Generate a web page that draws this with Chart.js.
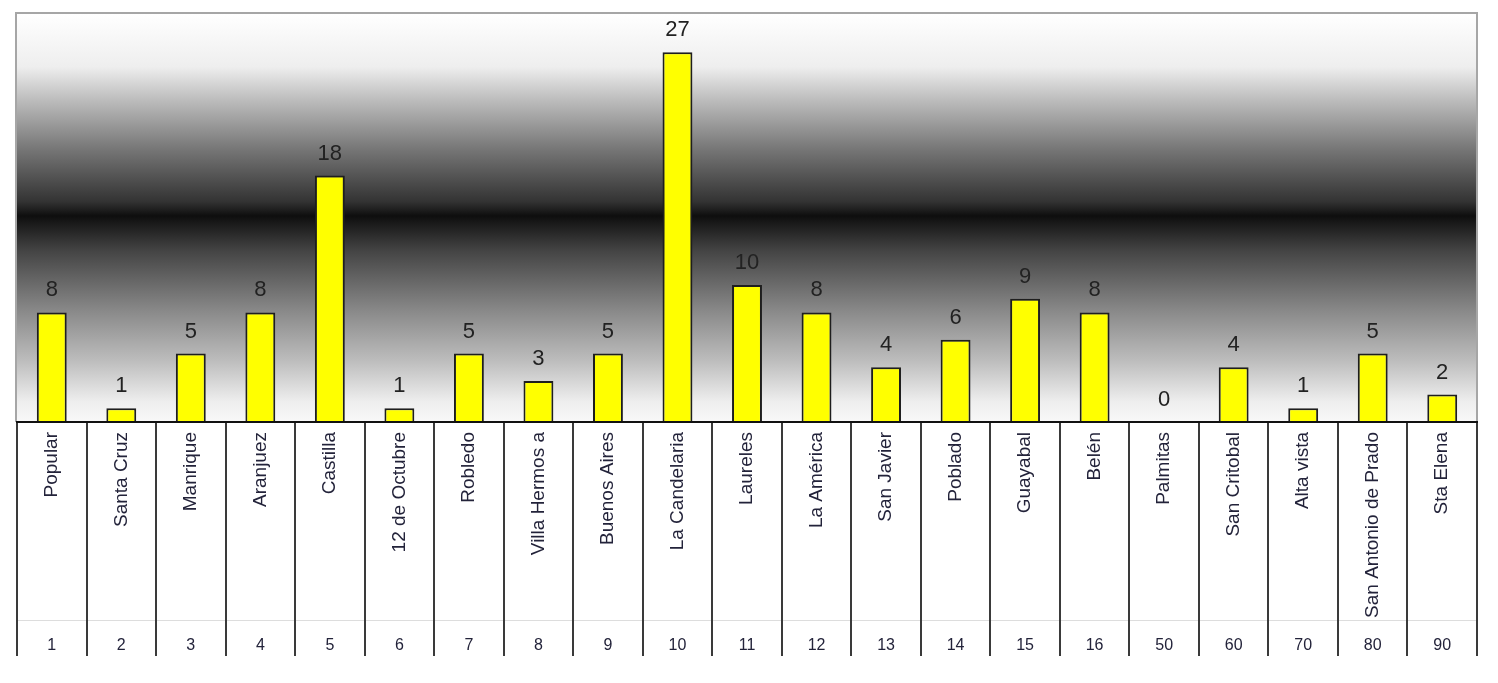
<!DOCTYPE html>
<html>
<head>
<meta charset="utf-8">
<script src="https://cdn.jsdelivr.net/npm/chart.js@4.4.1/dist/chart.umd.min.js"></script>
<style>
  html, body { margin: 0; padding: 0; background: #ffffff; }
  #wrap { width: 1498px; height: 683px; position: relative; }
</style>
</head>
<body>
<div id="wrap"><canvas id="chart" width="1498" height="683"></canvas></div>
<script>
// Comunas / corregimientos and their counts
const comunas = ['Popular', 'Santa Cruz', 'Manrique', 'Aranjuez', 'Castilla', '12 de Octubre',
  'Robledo', 'Villa Hermos a', 'Buenos Aires', 'La Candelaria', 'Laureles', 'La América',
  'San Javier', 'Poblado', 'Guayabal', 'Belén', 'Palmitas', 'San Critobal', 'Alta vista',
  'San Antonio de Prado', 'Sta Elena'];
const codigos = ['1', '2', '3', '4', '5', '6', '7', '8', '9', '10', '11', '12', '13', '14', '15', '16',
  '50', '60', '70', '80', '90'];
const casos = [8, 1, 5, 8, 18, 1, 5, 3, 5, 27, 10, 8, 4, 6, 9, 8, 0, 4, 1, 5, 2];

const FONT = "'Liberation Sans', Arial, sans-serif";

// Grey band background behind the bars
const bandBackground = {
  id: 'bandBackground',
  beforeDraw(chart) {
    const { ctx, chartArea: a } = chart;
    const g = ctx.createLinearGradient(0, a.top, 0, a.bottom);
    g.addColorStop(0.00, '#ffffff');
    g.addColorStop(0.13, '#eeeeee');
    g.addColorStop(0.21, '#bdbdbd');
    g.addColorStop(0.33, '#777777');
    g.addColorStop(0.46, '#333333');
    g.addColorStop(0.495, '#0e0e0e');
    g.addColorStop(0.58, '#444444');
    g.addColorStop(0.73, '#8a8a8a');
    g.addColorStop(0.85, '#bdbdbd');
    g.addColorStop(0.95, '#eeeeee');
    g.addColorStop(1.00, '#f8f8f8');
    ctx.save();
    ctx.fillStyle = g;
    ctx.fillRect(a.left, a.top, a.right - a.left, a.bottom - a.top);
    ctx.restore();
  }
};

// Frame, baseline, table dividers and value labels
const tableFrame = {
  id: 'tableFrame',
  afterDatasetsDraw(chart) {
    const { ctx, chartArea: a, scales } = chart;
    const xs = scales.x;
    const codes = scales.codes;
    const n = comunas.length;
    const step = (xs.right - xs.left) / n;
    ctx.save();

    // outer frame of the plot
    ctx.strokeStyle = '#a6a6a6';
    ctx.lineWidth = 2;
    ctx.beginPath();
    ctx.moveTo(a.left - 1, a.bottom);
    ctx.lineTo(a.left - 1, a.top - 1);
    ctx.lineTo(a.right, a.top - 1);
    ctx.lineTo(a.right, a.bottom);
    ctx.stroke();

    // row separator between names and codes
    ctx.strokeStyle = '#dddddd';
    ctx.lineWidth = 1;
    ctx.beginPath();
    ctx.moveTo(xs.left, codes.top + 0.5);
    ctx.lineTo(xs.right, codes.top + 0.5);
    ctx.stroke();

    // column dividers
    ctx.strokeStyle = '#3a3a3a';
    ctx.lineWidth = 2;
    for (let i = 0; i <= n; i++) {
      const x = Math.round(xs.left + i * step);
      ctx.beginPath();
      ctx.moveTo(x, a.bottom);
      ctx.lineTo(x, codes.bottom);
      ctx.stroke();
    }

    // baseline
    ctx.strokeStyle = '#111111';
    ctx.lineWidth = 2;
    ctx.beginPath();
    ctx.moveTo(a.left - 1, a.bottom);
    ctx.lineTo(a.right + 1, a.bottom);
    ctx.stroke();

    // value labels
    ctx.fillStyle = '#222222';
    ctx.font = '22px ' + FONT;
    ctx.textAlign = 'center';
    ctx.textBaseline = 'alphabetic';
    const meta = chart.getDatasetMeta(0);
    meta.data.forEach((bar, i) => {
      ctx.fillText(String(casos[i]), bar.x, bar.y - 16);
    });
    ctx.restore();
  }
};

new Chart(document.getElementById('chart'), {
  type: 'bar',
  data: {
    labels: comunas,
    datasets: [{
      data: casos,
      backgroundColor: '#ffff00',
      borderColor: '#1e1e1e',
      borderWidth: 2,
      barPercentage: 0.43,
      categoryPercentage: 1.0
    }]
  },
  options: {
    responsive: false,
    animation: false,
    layout: { padding: { left: 17, right: 21, top: 14, bottom: 27 } },
    plugins: { legend: { display: false }, tooltip: { enabled: false } },
    scales: {
      y: {
        display: false,
        min: 0,
        max: 29.8
      },
      x: {
        position: 'bottom',
        weight: 0,
        grid: { display: false, drawTicks: false },
        border: { display: false },
        ticks: {
          autoSkip: false,
          minRotation: 90,
          maxRotation: 90,
          padding: 10,
          color: '#23233a',
          font: { family: FONT, size: 19 }
        },
        afterFit(scale) { scale.height = 198; }
      },
      codes: {
        type: 'category',
        position: 'bottom',
        weight: 1,
        labels: codigos,
        offset: true,
        grid: { display: false, drawTicks: false },
        border: { display: false },
        ticks: {
          autoSkip: false,
          maxRotation: 0,
          padding: 16,
          color: '#23233a',
          font: { family: FONT, size: 16 }
        },
        afterFit(scale) { scale.height = 36; }
      }
    }
  },
  plugins: [bandBackground, tableFrame]
});
</script>
</body>
</html>
